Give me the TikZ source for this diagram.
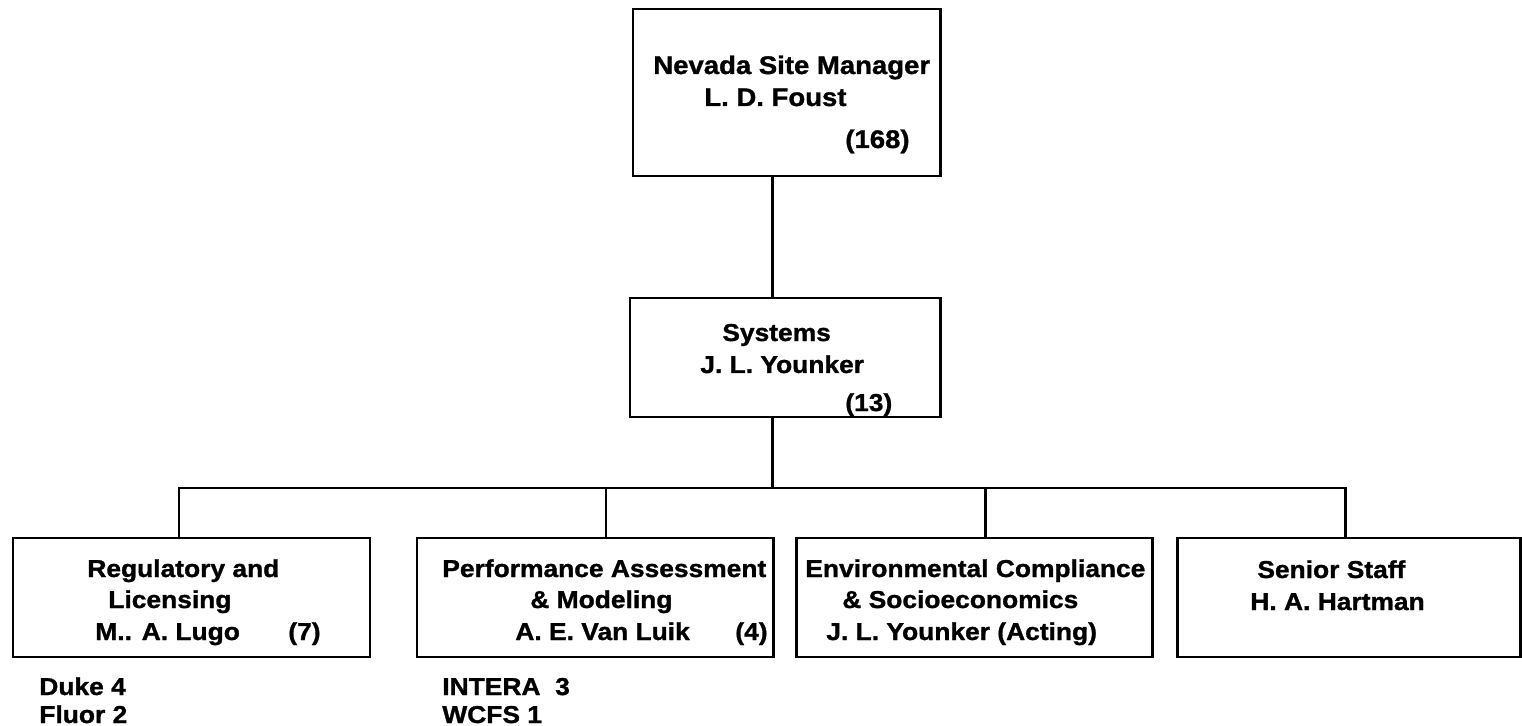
\documentclass[tikz,border=0pt]{standalone}
\usepackage{fontspec}
\setmainfont{Liberation Sans}[FakeStretch=1.08, BoldFeatures={FakeBold=1.2}]
\usetikzlibrary{fit}

\begin{document}
\begin{tikzpicture}[x=0.02cm, y=-0.02cm,
    box/.style={draw, line width=1.7pt, inner sep=0pt},
    link/.style={line width=1.7pt},
    txt/.style={anchor=base west, inner sep=0pt, font=\fontsize{13.9}{16}\selectfont\bfseries},
    toptxt/.style={txt, font=\fontsize{14.5}{17}\selectfont\bfseries}]
\useasboundingbox (0,0) rectangle (1522,726);

% boxes
\node[box, fit={(633,9) (940,176)}] (mgr) {};
\node[box, fit={(630,298) (940,417)}] (sys) {};
\node[box, fit={(13,538) (370,657)}] (reg) {};
\node[box, fit={(417,538) (773,657)}] (pam) {};
\node[box, fit={(796,538) (1152,657)}] (env) {};
\node[box, fit={(1177,538) (1520,657)}] (sen) {};

% texts
\node[toptxt] (mgrA) at (653,74) {Nevada Site Manager};
\node[toptxt] (mgrB) at (704,106) {L. D. Foust};
\node[toptxt] (mgrN) at (845,148) {(168)};

\node[txt] (sysA) at (722,341) {Systems};
\node[txt] (sysB) at (700,373) {J. L. Younker};
\node[txt] (sysN) at (845,411) {(13)};

\node[txt] (regA) at (87,577) {Regulatory and};
\node[txt] (regB) at (108,608) {Licensing};
\node[txt] (regC) at (95,640) {M.. A. Lugo};
\node[txt] (regN) at (288,640) {(7)};

\node[txt] (pamA) at (442,577) {Performance Assessment};
\node[txt] (pamB) at (530,608) {\& Modeling};
\node[txt] (pamC) at (515,640) {A. E. Van Luik};
\node[txt] (pamN) at (735,640) {(4)};

\node[txt] (envA) at (805,577) {Environmental Compliance};
\node[txt] (envB) at (842,608) {\& Socioeconomics};
\node[txt] (envC) at (826,640) {J. L. Younker (Acting)};

\node[txt] (senA) at (1257,578) {Senior Staff};
\node[txt] (senB) at (1250,610) {H. A. Hartman};

\node[txt] (duke) at (39,695) {Duke 4};
\node[txt] (fluor) at (39,723) {Fluor 2};
\node[txt] (intera) at (442,695) {INTERA\ \ 3};
\node[txt] (wcfs) at (442,723) {WCFS 1};

% connectors
\coordinate (bus) at (772,488);
\draw[link] (mgr.south -| bus) -- (sys.north -| bus);
\draw[link] (sys.south -| bus) -- (bus);
\foreach \b/\x in {reg/179, pam/606, env/985, sen/1345}
  \coordinate (s\b) at (\x,488);
\draw[link] (sreg |- reg.north) -- (sreg) -- (ssen) -- (ssen |- sen.north);
\draw[link] (spam) -- (spam |- pam.north);
\draw[link] (senv) -- (senv |- env.north);

\end{tikzpicture}
\end{document}
